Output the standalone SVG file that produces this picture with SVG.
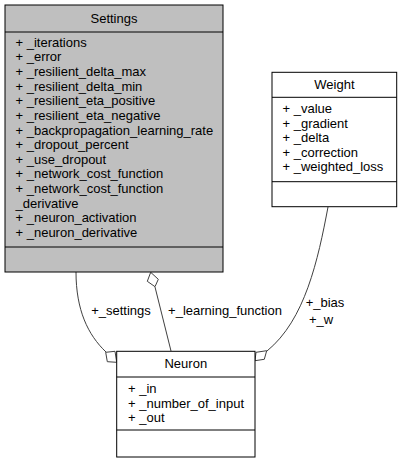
<svg xmlns="http://www.w3.org/2000/svg" width="401" height="463" viewBox="0 0 401 463">
<style>
text{font-family:"Liberation Sans",Arial,sans-serif;font-size:13px;fill:#000}
.t{text-anchor:middle}
.box{stroke:#000;stroke-width:1}
.edge{fill:none;stroke:#404040;stroke-width:1}
.dia{fill:#fff;stroke:#404040;stroke-width:1}
</style>
<rect width="401" height="463" fill="#fff"/>
<g id="connectors">
<path class="edge" d="M76,272 C76,310 88,335 106,352"/>
<polygon class="dia" points="105.7,352.3 115,351.3 116.7,362.3 107.3,361.7"/>
<path class="edge" d="M155,287 L171,351"/>
<polygon class="dia" points="150.7,272.3 158.3,279.3 155,286.7 147.3,281.3"/>
<path class="edge" d="M328,207 C318,260 305,320 267,351"/>
<polygon class="dia" points="266.7,350.7 264.3,359.3 255,360.7 256,352.3"/>
<text class="t" x="121" y="314.5">+_settings</text>
<text class="t" x="225" y="314.5">+_learning_function</text>
<text class="t" x="325" y="307">+_bias</text>
<text class="t" x="321" y="324">+_w</text>
</g>
<g id="Settings">
<rect class="box" x="5" y="5" width="218" height="267" fill="#bfbfbf"/>
<line class="box" x1="5" y1="32" x2="223" y2="32"/>
<line class="box" x1="5" y1="247" x2="223" y2="247"/>
<text class="t" x="114" y="23">Settings</text>
<text x="15.5" y="46.5">+ _iterations</text>
<text x="15.5" y="61.2">+ _error</text>
<text x="15.5" y="75.8">+ _resilient_delta_max</text>
<text x="15.5" y="90.5">+ _resilient_delta_min</text>
<text x="15.5" y="105.1">+ _resilient_eta_positive</text>
<text x="15.5" y="119.8">+ _resilient_eta_negative</text>
<text x="15.5" y="134.5">+ _backpropagation_learning_rate</text>
<text x="15.5" y="149.1">+ _dropout_percent</text>
<text x="15.5" y="163.8">+ _use_dropout</text>
<text x="15.5" y="178.4">+ _network_cost_function</text>
<text x="15.5" y="193.1">+ _network_cost_function</text>
<text x="15.5" y="207.8">_derivative</text>
<text x="15.5" y="222.4">+ _neuron_activation</text>
<text x="15.5" y="237.1">+ _neuron_derivative</text>
</g>
<g id="Weight">
<rect class="box" x="272" y="72.3" width="124.7" height="134.4" fill="#fff"/>
<line class="box" x1="272" y1="97.3" x2="396.7" y2="97.3"/>
<line class="box" x1="272" y1="181.7" x2="396.7" y2="181.7"/>
<text class="t" x="334.4" y="89">Weight</text>
<text x="282.5" y="113">+ _value</text>
<text x="282.5" y="127.5">+ _gradient</text>
<text x="282.5" y="142">+ _delta</text>
<text x="282.5" y="156.5">+ _correction</text>
<text x="282.5" y="171">+ _weighted_loss</text>
</g>
<g id="Neuron">
<rect class="box" x="116.7" y="351.3" width="138.3" height="105.7" fill="#fff"/>
<line class="box" x1="116.7" y1="377" x2="255" y2="377"/>
<line class="box" x1="116.7" y1="430" x2="255" y2="430"/>
<text class="t" x="185.8" y="367.5">Neuron</text>
<text x="128" y="393">+ _in</text>
<text x="128" y="407.5">+ _number_of_input</text>
<text x="128" y="422">+ _out</text>
</g>
</svg>
